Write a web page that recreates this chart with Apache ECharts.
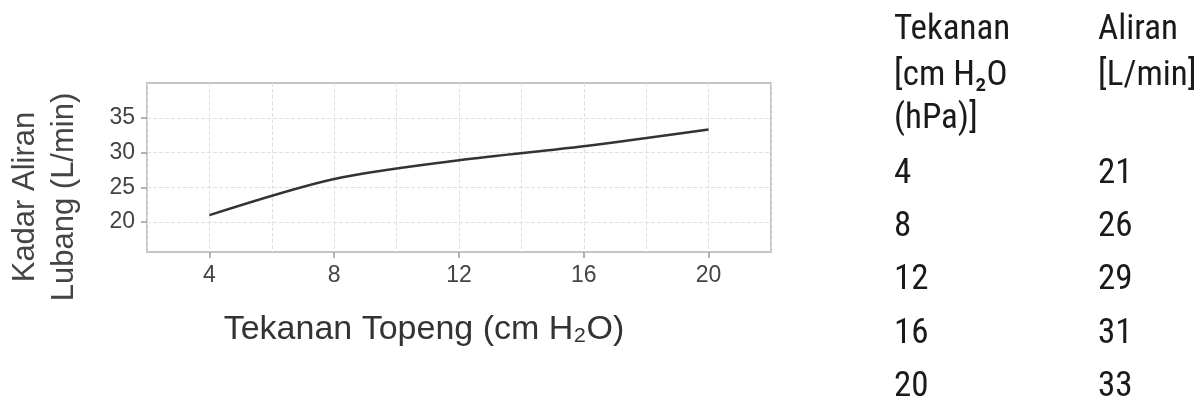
<!DOCTYPE html>
<html>
<head>
<meta charset="utf-8">
<script src="https://cdn.jsdelivr.net/npm/echarts@6/dist/echarts.min.js"></script>
<style>
  html, body { margin: 0; padding: 0; background: #fff; }
  #chart { width: 1200px; height: 403px; }
</style>
</head>
<body>
<div id="chart"></div>
<script>
// tekanan topeng (cm H2O) dan kadar aliran lubang (L/min)
const pressure = [4, 8, 12, 16, 20]
const flowCurve = [21, 26.2, 28.9, 30.9, 33.3]   // dibaca dari garis
const flowTable = [21, 26, 29, 31, 33]            // nilai di tabel kanan
const xLabels = [4, 8, 12, 16, 20]
const yLabels = [20, 25, 30, 35]
const headLeft = ['Tekanan', '[cm H₂O', '(hPa)]']
const headRight = ['Aliran', '[L/min]']

const axisFont = 'Liberation Sans, Arial, sans-serif'
const tableFont = '"Liberation Sans Narrow", "Roboto Condensed", "DejaVu Sans Condensed", sans-serif'

function txt (x, y, text, size, opt) {
  opt = opt || {}
  return {
    type: 'text',
    x: x,
    y: y,
    rotation: opt.rotation || 0,
    style: {
      text: text,
      font: size + 'px ' + (opt.family || axisFont),
      fill: opt.color || '#111',
      align: opt.align || 'left',
      verticalAlign: 'middle'
    }
  }
}

let graphics = []
// judul sumbu
graphics.push(txt(424, 330, 'Tekanan Topeng (cm H₂O)', 34, { align: 'center', color: '#333' }))
graphics.push(txt(25, 197, 'Kadar Aliran', 31, { align: 'center', color: '#444', rotation: Math.PI / 2 }))
graphics.push(txt(64, 197, 'Lubang (L/min)', 31, { align: 'center', color: '#444', rotation: Math.PI / 2 }))

// tabel
const headBase = [43, 89, 132]
headLeft.forEach((t, i) => graphics.push(txt(894, headBase[i] - 13, t, 35, { family: tableFont, color: '#1a1a1a' })))
headRight.forEach((t, i) => graphics.push(txt(1098, headBase[i] - 13, t, 35, { family: tableFont, color: '#1a1a1a' })))
pressure.forEach((p, i) => {
  let base = 187 + i * 53.25
  graphics.push(txt(894, base - 13, String(p), 35, { family: tableFont, color: '#1a1a1a' }))
  graphics.push(txt(1098, base - 13, String(flowTable[i]), 35, { family: tableFont, color: '#1a1a1a' }))
})

const chart = echarts.init(document.getElementById('chart'), null, { renderer: 'canvas' })
chart.setOption({
  animation: false,
  backgroundColor: '#fff',
  grid: {
    left: 147,
    right: 429,
    top: 83,
    bottom: 151,
    show: true,
    borderColor: '#c4c4c4',
    borderWidth: 2,
    backgroundColor: '#fff'
  },
  xAxis: [{
    type: 'value',
    min: 2,
    max: 22,
    interval: 2,
    axisLine: { show: false },
    axisTick: { show: false },
    axisLabel: { show: false },
    splitLine: { show: true, lineStyle: { color: '#e0e0e0', type: 'dashed', width: 1 } }
  }, {
    type: 'value',
    min: 2,
    max: 22,
    position: 'bottom',
    axisLine: { show: false },
    splitLine: { show: false },
    axisTick: { show: true, customValues: xLabels, length: 6, lineStyle: { color: '#999', width: 1.5 } },
    axisLabel: { customValues: xLabels, margin: 12, fontSize: 23, fontFamily: axisFont, color: '#444' }
  }],
  yAxis: {
    type: 'value',
    min: 15.7,
    max: 40,
    axisLine: { show: false },
    axisTick: { show: true, customValues: yLabels, length: 6, lineStyle: { color: '#999', width: 1.5 } },
    axisLabel: { customValues: yLabels, margin: 12, fontSize: 23, fontFamily: axisFont, color: '#444' },
    splitLine: { show: true, lineStyle: { color: '#e0e0e0', type: 'dashed', width: 1 } }
  },
  series: [{
    type: 'line',
    xAxisIndex: 0,
    data: pressure.map((p, i) => [p, flowCurve[i]]),
    smooth: 0.3,
    showSymbol: false,
    lineStyle: { color: '#333', width: 2.5 }
  }],
  graphic: graphics
})
</script>
</body>
</html>
